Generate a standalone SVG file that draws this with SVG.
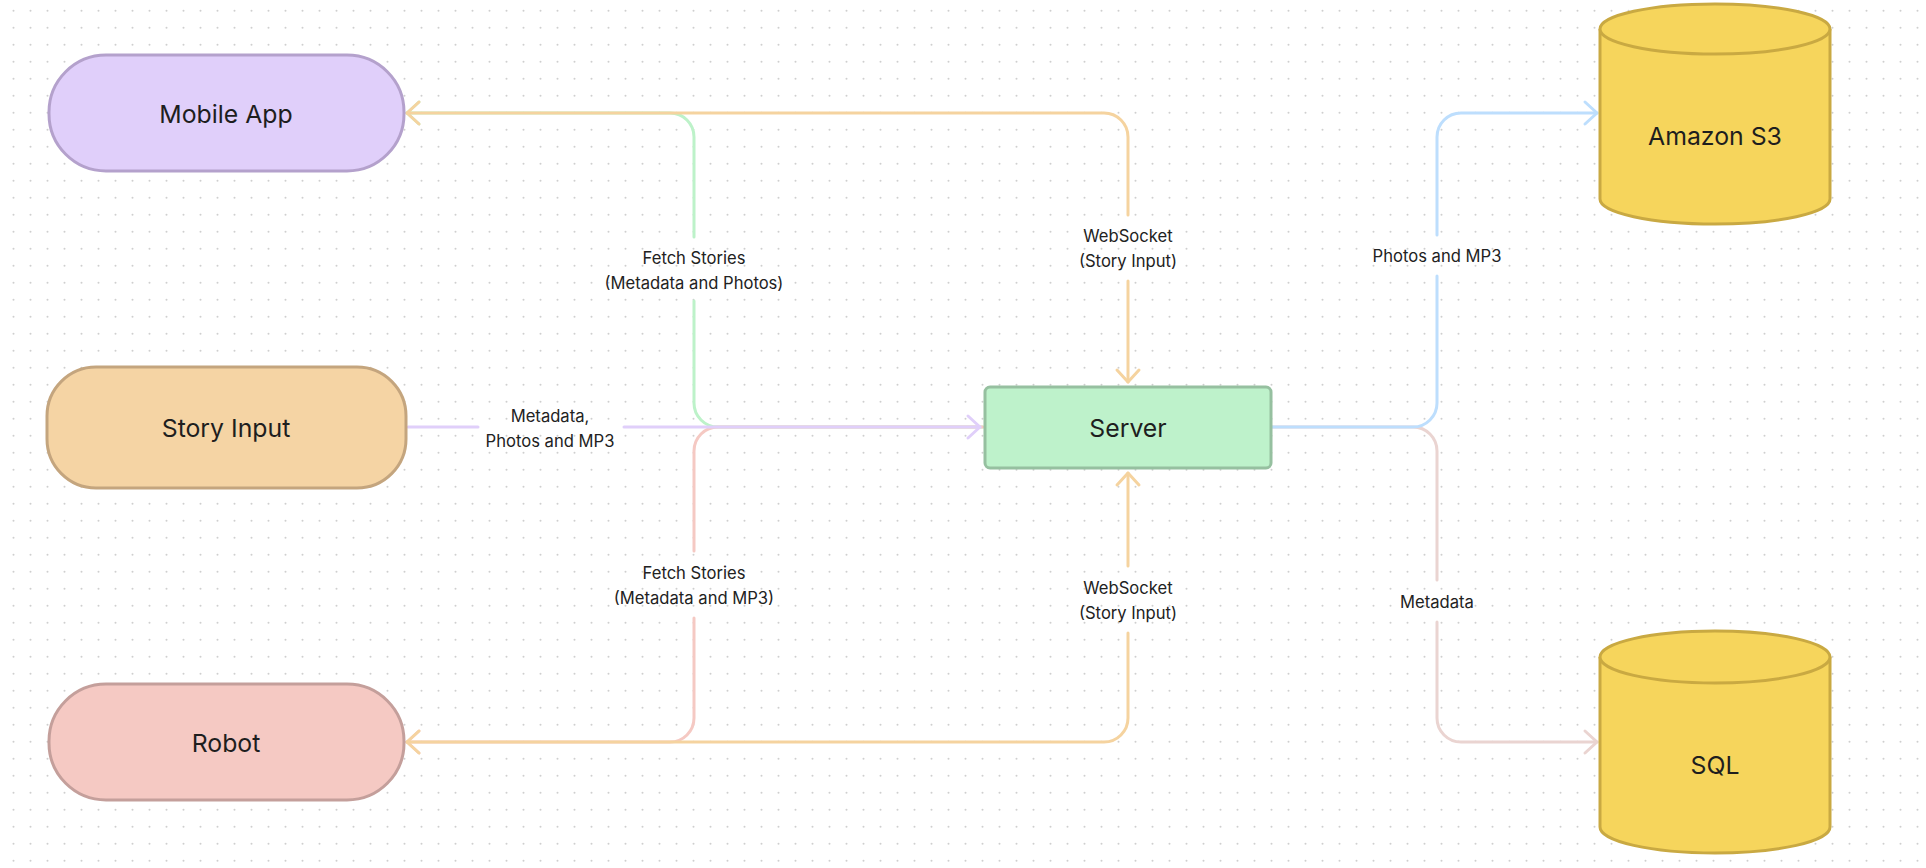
<svg xmlns="http://www.w3.org/2000/svg" width="1926" height="868" viewBox="0 0 1926 868">
<defs>
  <pattern id="dots" patternUnits="userSpaceOnUse" width="17" height="17">
    <circle cx="13.5" cy="10.7" r="1" fill="#cfcfcf"/>
  </pattern>
  <marker id="a-orange" viewBox="-15 -14 18 28" refX="0" refY="0" markerWidth="18" markerHeight="28" markerUnits="userSpaceOnUse" orient="auto-start-reverse">
    <path d="M-12,-11 L0,0 L-12,11" fill="none" stroke="#f5d39f" stroke-width="3" stroke-linecap="round" stroke-linejoin="round"/>
  </marker>
  <marker id="a-green" viewBox="-15 -14 18 28" refX="0" refY="0" markerWidth="18" markerHeight="28" markerUnits="userSpaceOnUse" orient="auto-start-reverse">
    <path d="M-12,-11 L0,0 L-12,11" fill="none" stroke="#bdf2c9" stroke-width="3" stroke-linecap="round" stroke-linejoin="round"/>
  </marker>
  <marker id="a-red" viewBox="-15 -14 18 28" refX="0" refY="0" markerWidth="18" markerHeight="28" markerUnits="userSpaceOnUse" orient="auto-start-reverse">
    <path d="M-12,-11 L0,0 L-12,11" fill="none" stroke="#f5c9c3" stroke-width="3" stroke-linecap="round" stroke-linejoin="round"/>
  </marker>
  <marker id="a-purple" viewBox="-15 -14 18 28" refX="0" refY="0" markerWidth="18" markerHeight="28" markerUnits="userSpaceOnUse" orient="auto-start-reverse">
    <path d="M-12,-11 L0,0 L-12,11" fill="none" stroke="#e0cffa" stroke-width="3" stroke-linecap="round" stroke-linejoin="round"/>
  </marker>
  <marker id="a-blue" viewBox="-15 -14 18 28" refX="0" refY="0" markerWidth="18" markerHeight="28" markerUnits="userSpaceOnUse" orient="auto-start-reverse">
    <path d="M-12,-11 L0,0 L-12,11" fill="none" stroke="#bddefd" stroke-width="3" stroke-linecap="round" stroke-linejoin="round"/>
  </marker>
  <marker id="a-pink" viewBox="-15 -14 18 28" refX="0" refY="0" markerWidth="18" markerHeight="28" markerUnits="userSpaceOnUse" orient="auto-start-reverse">
    <path d="M-12,-11 L0,0 L-12,11" fill="none" stroke="#ead4d1" stroke-width="3" stroke-linecap="round" stroke-linejoin="round"/>
  </marker>
</defs>
<style>
  .conn { fill: none; stroke-width: 3; stroke-linecap: round; stroke-linejoin: round; }
  .orange { stroke: #f5d39f; }
  .green { stroke: #bdf2c9; }
  .red { stroke: #f5c9c3; }
  .purple { stroke: #e0cffa; }
  .blue { stroke: #bddefd; }
  .pink { stroke: #ead4d1; }
  .node { stroke-width: 3; }
  .ntext { font-family: Inter, "Liberation Sans", sans-serif; font-size: 24.8px; fill: #1e1e1e; text-anchor: middle; dominant-baseline: central; }
  .ltext { font-family: Inter, "Liberation Sans", sans-serif; font-size: 16.6px; fill: #222222; text-anchor: middle; dominant-baseline: central; }
  .db { fill: #f6d55c; stroke: #c9a942; stroke-width: 3; }
</style>
<rect x="0" y="0" width="1926" height="868" fill="#ffffff"/>
<rect x="0" y="0" width="1926" height="868" fill="url(#dots)"/>

<g id="connectors">
  <!-- Server -> Mobile App (Fetch Stories, Metadata and Photos) -->
  <path class="conn green" d="M983,427 H718 A24,24 0 0 1 694,403 V301"/>
  <path class="conn green" d="M694,237 V137 A24,24 0 0 0 670,113 H407" marker-end="url(#a-green)"/>
  <!-- Server -> Robot (Fetch Stories, Metadata and MP3) -->
  <path class="conn red" d="M983,427 H718 A24,24 0 0 0 694,451 V551"/>
  <path class="conn red" d="M694,618 V718 A24,24 0 0 1 670,742 H407" marker-end="url(#a-red)"/>
  <!-- Story Input -> Server -->
  <path class="conn purple" d="M408,427 H478"/>
  <path class="conn purple" d="M624,427 H980" marker-end="url(#a-purple)"/>
  <!-- WebSocket top: Mobile App <-> Server -->
  <path class="conn orange" d="M407,113 H1104 A24,24 0 0 1 1128,137 V215" marker-start="url(#a-orange)"/>
  <path class="conn orange" d="M1128,281 V382" marker-end="url(#a-orange)"/>
  <!-- WebSocket bottom: Robot <-> Server -->
  <path class="conn orange" d="M407,742 H1104 A24,24 0 0 0 1128,718 V633" marker-start="url(#a-orange)"/>
  <path class="conn orange" d="M1128,566 V473" marker-end="url(#a-orange)"/>
  <!-- Server -> SQL -->
  <path class="conn pink" d="M1272,427 H1413 A24,24 0 0 1 1437,451 V580"/>
  <path class="conn pink" d="M1437,622 V718 A24,24 0 0 0 1461,742 H1597" marker-end="url(#a-pink)"/>
  <!-- Server -> Amazon S3 -->
  <path class="conn blue" d="M1272,427 H1413 A24,24 0 0 0 1437,403 V276"/>
  <path class="conn blue" d="M1437,235 V137 A24,24 0 0 1 1461,113 H1597" marker-end="url(#a-blue)"/>

  <text class="ltext" x="694" y="258">Fetch Stories</text>
  <text class="ltext" x="694" y="283">(Metadata and Photos)</text>
  <text class="ltext" x="1128" y="236">WebSocket</text>
  <text class="ltext" x="1128" y="261">(Story Input)</text>
  <text class="ltext" x="1437" y="256">Photos and MP3</text>
  <text class="ltext" x="550" y="416">Metadata,</text>
  <text class="ltext" x="550" y="441">Photos and MP3</text>
  <text class="ltext" x="694" y="573">Fetch Stories</text>
  <text class="ltext" x="694" y="598">(Metadata and MP3)</text>
  <text class="ltext" x="1128" y="588">WebSocket</text>
  <text class="ltext" x="1128" y="613">(Story Input)</text>
  <text class="ltext" x="1437" y="602">Metadata</text>
</g>

<g id="mobile-app">
  <rect class="node" x="49" y="55" width="355" height="116" rx="57" ry="57" fill="#e0cffa" stroke="#b4a1cc"/>
  <text class="ntext" x="226" y="114">Mobile App</text>
</g>

<g id="story-input">
  <rect class="node" x="47" y="367" width="359" height="121" rx="49" ry="49" fill="#f5d4a4" stroke="#c4a57e"/>
  <text class="ntext" x="226" y="428">Story Input</text>
</g>

<g id="robot">
  <rect class="node" x="49" y="684" width="355" height="116" rx="57" ry="57" fill="#f5c9c3" stroke="#c49f9b"/>
  <text class="ntext" x="226" y="743">Robot</text>
</g>

<g id="server">
  <rect class="node" x="985" y="387" width="286" height="81" rx="5" ry="5" fill="#bef2cb" stroke="#96c0a0"/>
  <text class="ntext" x="1128" y="428">Server</text>
</g>

<g id="amazon-s3">
  <path class="db" d="M1600,29 V199 A115,25 0 0 0 1830,199 V29"/>
  <ellipse class="db" cx="1715" cy="29" rx="115" ry="25"/>
  <text class="ntext" x="1715" y="136">Amazon S3</text>
</g>

<g id="sql">
  <path class="db" d="M1600,657 V827 A115,26 0 0 0 1830,827 V657"/>
  <ellipse class="db" cx="1715" cy="657" rx="115" ry="26"/>
  <text class="ntext" x="1715" y="765">SQL</text>
</g>
</svg>
